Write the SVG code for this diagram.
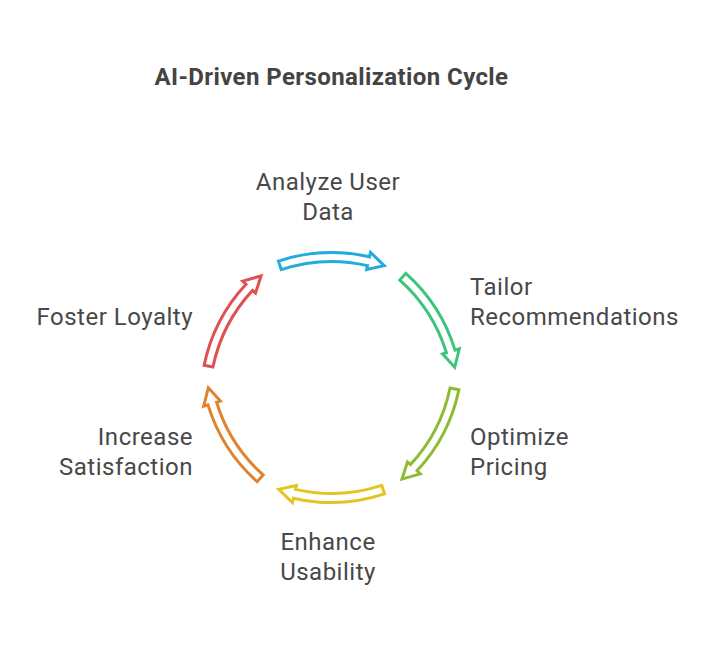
<svg xmlns="http://www.w3.org/2000/svg" width="723" height="648" viewBox="0 0 723 648">
<style>
.t{font-family:Roboto,"Liberation Sans",sans-serif;font-size:24px;letter-spacing:0.5px;fill:#484848}
.title{font-family:Roboto,"Liberation Sans",sans-serif;font-size:24px;letter-spacing:0.4px;font-weight:bold;fill:#444}
.arr{fill:#fff;stroke-width:3;stroke-linejoin:miter}
</style>
<defs>
<path id="a" d="M -53.07 -116.45 A169 169 0 0 1 38.03 -120.67 L 39.04 -125.06 L 52.74 -111.81 L 35.10 -108.01 L 36.0 -111.90 A160 160 0 0 0 -50.24 -107.90 Z"/>
</defs>
<rect width="723" height="648" fill="#fff"/>
<text class="title" x="331.5" y="85" text-anchor="middle">AI-Driven Personalization Cycle</text>
<g id="connectors" transform="translate(331.5 377.5)">
<use href="#a" class="arr" stroke="#22ABDC"/>
<use href="#a" class="arr" stroke="#3CC47C" transform="rotate(60)"/>
<use href="#a" class="arr" stroke="#8DBB32" transform="rotate(120)"/>
<use href="#a" class="arr" stroke="#E2C520" transform="rotate(180)"/>
<use href="#a" class="arr" stroke="#E0832E" transform="rotate(240)"/>
<use href="#a" class="arr" stroke="#E05050" transform="rotate(300)"/>
</g>
<g id="analyze"><text class="t" x="328" y="190" text-anchor="middle">Analyze User</text><text class="t" x="328" y="220" text-anchor="middle">Data</text></g>
<g id="tailor"><text class="t" x="470" y="295">Tailor</text><text class="t" x="470" y="325">Recommendations</text></g>
<g id="optimize"><text class="t" x="470" y="445">Optimize</text><text class="t" x="470" y="475">Pricing</text></g>
<g id="enhance"><text class="t" x="328" y="550" text-anchor="middle">Enhance</text><text class="t" x="328" y="580" text-anchor="middle">Usability</text></g>
<g id="increase"><text class="t" x="193" y="445" text-anchor="end">Increase</text><text class="t" x="193" y="475" text-anchor="end">Satisfaction</text></g>
<g id="foster"><text class="t" x="193" y="325" text-anchor="end">Foster Loyalty</text></g>
</svg>
